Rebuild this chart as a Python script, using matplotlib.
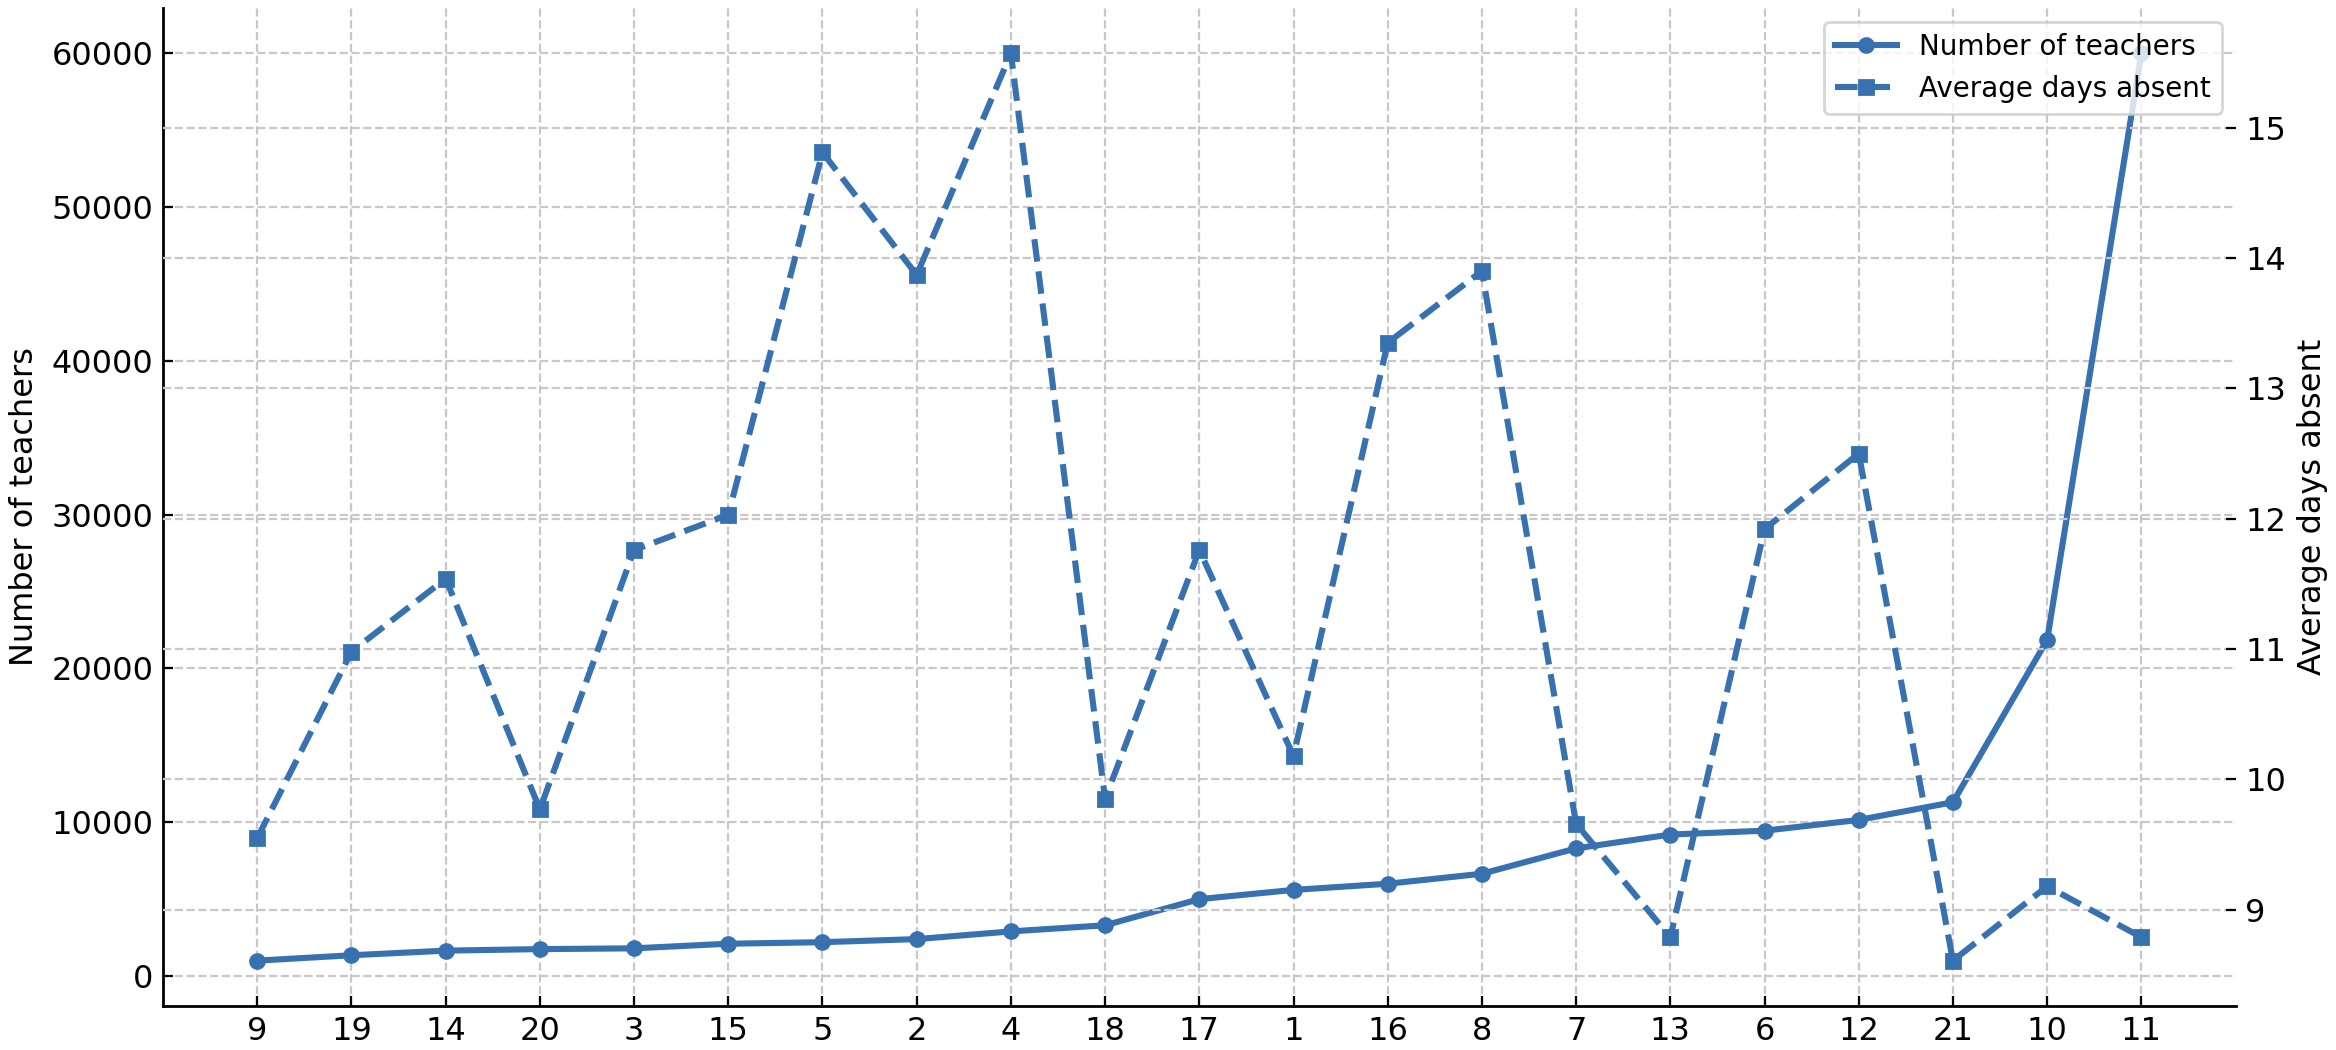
import matplotlib
matplotlib.use("Agg")
import matplotlib.pyplot as plt
import numpy as np

categories = ["9", "19", "14", "20", "3", "15", "5", "2", "4", "18", "17",
              "1", "16", "8", "7", "13", "6", "12", "21", "10", "11"]
teachers = [1000, 1350, 1650, 1750, 1800, 2100, 2200, 2400, 2900, 3300, 5000,
            5600, 6000, 6650, 8300, 9200, 9450, 10150, 11300, 21850, 60000]
days_absent = [9.55, 10.98, 11.54, 9.77, 11.76, 12.03, 14.81, 13.87, 15.57, 9.85, 11.76,
               10.18, 13.35, 13.90, 9.66, 8.79, 11.92, 12.50, 8.61, 9.18, 8.79]

color = "#3771b0"
plt.rcParams['font.family'] = ['DejaVu Sans']

fig = plt.figure(figsize=(11.68, 5.25), dpi=200)
ax = fig.add_axes([0.0698, 0.0419, 0.957 - 0.0698, 0.9924 - 0.0419])
ax2 = ax.twinx()

x = np.arange(len(categories))
l1, = ax.plot(x, teachers, color=color, marker='o', markersize=5, linewidth=2.2,
              label="Number of teachers")
l2, = ax2.plot(x, days_absent, color=color, marker='s', markersize=5, linewidth=2.2,
               linestyle='--', label="Average days absent")

ax.set_xticks(x)
ax.set_xticklabels(categories)
ax.set_xlim(-1, 21)
ax.set_yticks([0, 10000, 20000, 30000, 40000, 50000, 60000])
ax2.set_yticks([9, 10, 11, 12, 13, 14, 15])

for a in (ax, ax2):
    a.grid(True, linestyle='--', color='#c8c8c8', linewidth=0.8)
    a.tick_params(direction='in', length=3.5, width=0.8, labelsize=11.5)
    for s in ('top', 'right'):
        a.spines[s].set_visible(False)
ax2.spines['left'].set_visible(False)
ax2.spines['bottom'].set_visible(False)
ax.spines['left'].set_linewidth(1.0)
ax.spines['bottom'].set_linewidth(1.0)
ax.set_axisbelow(True)

ax.set_ylabel("Number of teachers", fontsize=11.5)
ax2.set_ylabel("Average days absent", fontsize=11.5)
ax.set_title("Number of Teachers and Average Days Absent by Category",
             fontsize=14, pad=7.5)

ax2.legend(handles=[l1, l2], loc='upper right', fontsize=10, framealpha=0.8,
           handlelength=2.2)

fig.savefig("out.png", dpi=200)
